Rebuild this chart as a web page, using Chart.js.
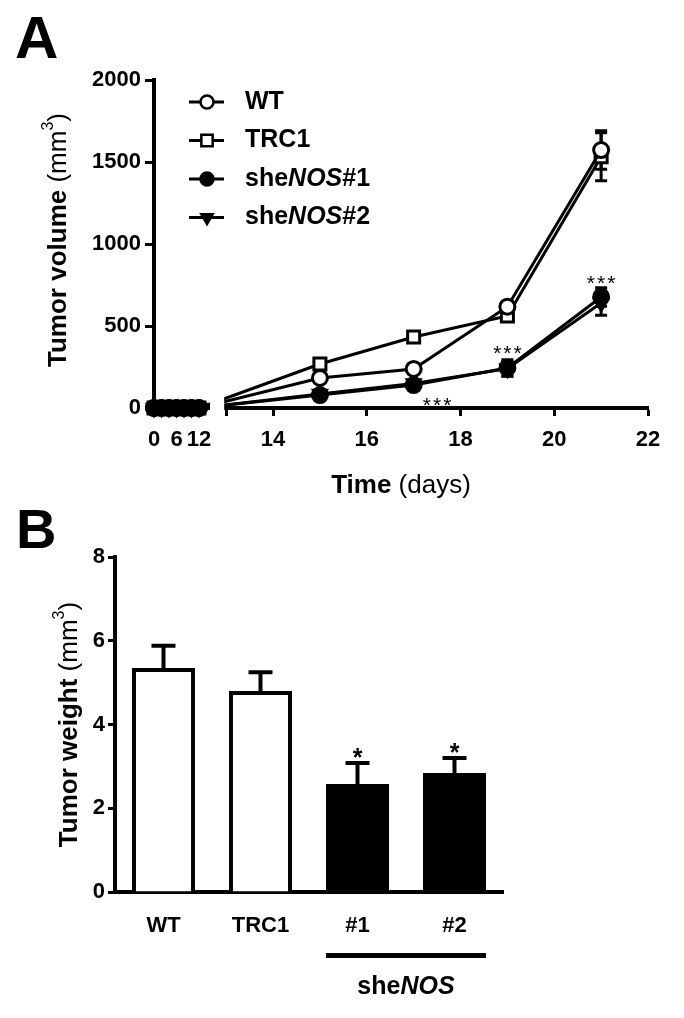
<!DOCTYPE html>
<html lang="en">
<head>
<meta charset="UTF-8">
<title>Tumor volume and tumor weight</title>
<style>
  body { margin: 0; background: #fff; }
  canvas { display: block; }
</style>
</head>
<body>
<canvas id="volumeChart" width="684" height="500"></canvas>
<canvas id="weightChart" width="684" height="518"></canvas>

<script src="https://cdn.jsdelivr.net/npm/chart.js@4.4.1/dist/chart.umd.min.js"></script>
<script>
// ---- panel A data: tumor volume (mm3) by day ----
const days = [0, 2, 4, 6, 8, 10, 12, 15, 17, 19, 21];
const wtVolume   = [0, 0, 0, 0, 0, 0, 0, 183, 238, 618, 1573];
const trcVolume  = [0, 0, 0, 0, 0, 0, 0, 268, 433, 561, 1532];
const nos1Volume = [0, 0, 0, 0, 0, 0, 0, 79, 140, 244, 677];
const nos2Volume = [0, 0, 0, 0, 0, 0, 0, 85, 150, 240, 640];
const wtErr   = [0, 0, 0, 0, 0, 0, 0, 0, 0, 0, 117];
const trcErr  = [0, 0, 0, 0, 0, 0, 0, 0, 0, 0, 146];
const nos1Err = [0, 0, 0, 0, 0, 0, 0, 0, 0, 50, 56];
const nos2Err = [0, 0, 0, 0, 0, 0, 0, 0, 0, 45, 75];
const dayTicks = [0, 6, 12, 13, 14, 16, 18, 20, 22];
const dayTickLabels = ['0', '6', '12', '', '14', '16', '18', '20', '22'];
const starDays = [17.5, 19, 21];
const starVolumes = [49, 366, 793];

// ---- panel B data: tumor weight ----
const groups = ['WT', 'TRC1', '#1', '#2'];
const weights = [5.35, 4.80, 2.58, 2.84];
const weightErr = [0.53, 0.45, 0.50, 0.36];
const weightStars = ['', '', '*', '*'];

const FONT = "'Liberation Sans', Arial, sans-serif";
const bold = s => `bold ${s}px ${FONT}`;
const regular = s => `${s}px ${FONT}`;
const boldItalic = s => `italic bold ${s}px ${FONT}`;

Chart.defaults.font.family = FONT;
Chart.defaults.color = '#000';
Chart.defaults.animation = false;

// days 0-12 are squeezed into a short segment before the axis break
const BREAK_START = 11.46;
const BREAK_SCALE = 0.08;
function axisDay(d) {
    return d <= 12 ? BREAK_START + d * BREAK_SCALE : d;
}

function drawRich(ctx, parts, x, y, align, angle) {
    ctx.save();
    ctx.translate(x, y);
    if (angle) ctx.rotate(angle);
    let total = 0;
    parts.forEach(p => {
        ctx.font = p.font;
        p.w = ctx.measureText(p.text).width;
        total += p.w;
    });
    let cx = align === 'center' ? -total / 2 : 0;
    ctx.textBaseline = 'middle';
    ctx.textAlign = 'left';
    ctx.fillStyle = '#000';
    parts.forEach(p => {
        ctx.font = p.font;
        ctx.fillText(p.text, cx, p.dy || 0);
        cx += p.w;
    });
    ctx.restore();
}

function drawMarker(ctx, style, x, y, r, filled) {
    ctx.beginPath();
    if (style === 'circle') {
        ctx.arc(x, y, r, 0, Math.PI * 2);
    } else if (style === 'rect') {
        const h = r * Math.SQRT1_2;
        ctx.rect(x - h, y - h, 2 * h, 2 * h);
    } else {
        ctx.moveTo(x - r * 0.866, y - r * 0.5);
        ctx.lineTo(x + r * 0.866, y - r * 0.5);
        ctx.lineTo(x, y + r);
        ctx.closePath();
    }
    ctx.fillStyle = filled ? '#000' : '#fff';
    ctx.fill();
    ctx.lineWidth = 2.5;
    ctx.strokeStyle = '#000';
    ctx.stroke();
}

function drawStars(ctx, text, x, cy, font, size, spacing) {
    ctx.save();
    ctx.font = font;
    ctx.letterSpacing = spacing + 'px';
    ctx.textAlign = 'center';
    ctx.textBaseline = 'alphabetic';
    ctx.fillStyle = '#000';
    ctx.fillText(text, x + spacing / 2, cy + size * 0.58);
    ctx.restore();
}

const series = [
    { name: [{ text: 'WT' }], values: wtVolume, err: wtErr, style: 'circle', filled: false, order: 3 },
    { name: [{ text: 'TRC1' }], values: trcVolume, err: trcErr, style: 'rect', filled: false, order: 4 },
    { name: [{ text: 'she' }, { text: 'NOS', italic: true }, { text: '#1' }], values: nos1Volume, err: nos1Err, style: 'circle', filled: true, order: 1 },
    { name: [{ text: 'she' }, { text: 'NOS', italic: true }, { text: '#2' }], values: nos2Volume, err: nos2Err, style: 'triangle', filled: true, order: 2 }
];

const volumePlugin = {
    id: 'volumeExtras',
    beforeDatasetsDraw(chart) {
        const { ctx, scales: { x, y } } = chart;
        ctx.save();
        ctx.strokeStyle = '#000';
        ctx.lineWidth = 3;
        series.forEach(s => {
            s.err.forEach((e, i) => {
                if (!e) return;
                const px = x.getPixelForValue(axisDay(days[i]));
                const top = y.getPixelForValue(s.values[i] + e);
                const bot = y.getPixelForValue(s.values[i] - e);
                ctx.beginPath();
                ctx.moveTo(px, top); ctx.lineTo(px, bot);
                ctx.moveTo(px - 6, top); ctx.lineTo(px + 6, top);
                ctx.moveTo(px - 6, bot); ctx.lineTo(px + 6, bot);
                ctx.stroke();
            });
        });
        ctx.restore();
    },
    afterDatasetsDraw(chart) {
        // axis break: blank out the gap between the two axis segments
        const { ctx, chartArea, scales: { x } } = chart;
        const left = x.getPixelForValue(axisDay(12)) + 11;
        const right = x.getPixelForValue(13) - 2;
        ctx.save();
        ctx.fillStyle = '#fff';
        ctx.fillRect(left, chartArea.bottom - 45, right - left, 48);
        ctx.restore();
    },
    afterDraw(chart) {
        const { ctx, chartArea, scales: { x, y } } = chart;
        // significance marks
        starDays.forEach((d, i) => {
            drawStars(ctx, '***', x.getPixelForValue(d), y.getPixelForValue(starVolumes[i]), regular(21), 21, 2);
        });
        // legend
        series.forEach((s, i) => {
            const ly = 102 + i * 38.5;
            ctx.save();
            ctx.strokeStyle = '#000';
            ctx.lineWidth = 3;
            ctx.beginPath();
            ctx.moveTo(189, ly); ctx.lineTo(224, ly);
            ctx.stroke();
            ctx.restore();
            drawMarker(ctx, s.style, 207, ly, s.style === 'rect' ? 8 : 6.5, s.filled);
            drawRich(ctx, s.name.map(p => ({ text: p.text, font: p.italic ? boldItalic(25) : bold(25) })), 245, ly, 'left', 0);
        });
        // axis titles
        drawRich(ctx, [
            { text: 'Time ', font: bold(26) },
            { text: '(days)', font: regular(26) }
        ], (chartArea.left + chartArea.right) / 2, 486, 'center', 0);
        drawRich(ctx, [
            { text: 'Tumor volume ', font: bold(26) },
            { text: '(mm', font: regular(26) },
            { text: '3', font: regular(16), dy: -10 },
            { text: ')', font: regular(26) }
        ], 59, 240, 'center', -Math.PI / 2);
        // panel letter
        ctx.save();
        ctx.font = bold(60);
        ctx.textBaseline = 'alphabetic';
        ctx.fillStyle = '#000';
        ctx.fillText('A', 15, 58);
        ctx.restore();
    }
};

const volumeCtx = document.getElementById('volumeChart').getContext('2d');
new Chart(volumeCtx, {
    type: 'line',
    data: {
        datasets: series.map(s => ({
            label: s.name.map(p => p.text).join(''),
            data: days.map((d, i) => ({ x: axisDay(d), y: s.values[i] })),
            order: s.order,
            borderColor: '#000',
            borderWidth: 3,
            tension: 0,
            clip: false,
            pointStyle: s.style,
            pointRotation: s.style === 'triangle' ? 180 : 0,
            pointRadius: s.style === 'rect' ? 8.5 : 7.5,
            pointBorderWidth: 3,
            pointBorderColor: '#000',
            pointBackgroundColor: s.filled ? '#000' : '#fff'
        }))
    },
    options: {
        responsive: false,
        events: [],
        layout: { padding: { left: 0, right: 36, top: 80, bottom: 42 } },
        plugins: { legend: { display: false }, tooltip: { enabled: false } },
        scales: {
            x: {
                type: 'linear',
                min: axisDay(0),
                max: 22,
                afterBuildTicks: s => { s.ticks = dayTicks.map(v => ({ value: axisDay(v) })); },
                afterFit: s => { s.height = 50; },
                ticks: {
                    autoSkip: false,
                    maxRotation: 0,
                    padding: 11,
                    font: { size: 22, weight: 'bold' },
                    callback: (v, i) => dayTickLabels[i]
                },
                grid: { drawOnChartArea: false, tickLength: 8, tickWidth: 3, color: '#000' },
                border: { width: 4, color: '#000' }
            },
            y: {
                min: 0,
                max: 2000,
                afterFit: s => { s.width = 154; },
                ticks: { stepSize: 500, padding: 4, font: { size: 22, weight: 'bold' }, callback: v => String(v) },
                grid: { drawOnChartArea: false, tickLength: 9, tickWidth: 3, color: '#000' },
                border: { width: 4, color: '#000' }
            }
        }
    },
    plugins: [volumePlugin]
});

// ---- panel B ----
const weightPlugin = {
    id: 'weightExtras',
    afterDatasetsDraw(chart) {
        const { ctx, scales: { y } } = chart;
        const bars = chart.getDatasetMeta(0).data;
        ctx.save();
        ctx.strokeStyle = '#000';
        ctx.lineWidth = 4;
        bars.forEach((bar, i) => {
            const base = y.getPixelForValue(weights[i]);
            const top = y.getPixelForValue(weights[i] + weightErr[i]);
            ctx.beginPath();
            ctx.moveTo(bar.x, base); ctx.lineTo(bar.x, top);
            ctx.moveTo(bar.x - 12, top); ctx.lineTo(bar.x + 12, top);
            ctx.stroke();
            if (weightStars[i]) drawStars(ctx, weightStars[i], bar.x, top - 12, bold(25), 25, 0);
        });
        ctx.restore();
    },
    afterDraw(chart) {
        const { ctx, chartArea } = chart;
        const bars = chart.getDatasetMeta(0).data;
        // bracket under the two knockdown groups
        const left = bars[2].x - bars[2].width / 2;
        const right = bars[3].x + bars[3].width / 2;
        ctx.save();
        ctx.fillStyle = '#000';
        ctx.fillRect(left, 453, right - left, 5);
        ctx.restore();
        drawRich(ctx, [
            { text: 'she', font: bold(25) },
            { text: 'NOS', font: boldItalic(25) }
        ], (left + right) / 2, 487, 'center', 0);
        drawRich(ctx, [
            { text: 'Tumor weight ', font: bold(26) },
            { text: '(mm', font: regular(26) },
            { text: '3', font: regular(16), dy: -10 },
            { text: ')', font: regular(26) }
        ], 70, (chartArea.top + chartArea.bottom) / 2, 'center', -Math.PI / 2);
        ctx.save();
        ctx.font = bold(56);
        ctx.textBaseline = 'alphabetic';
        ctx.fillStyle = '#000';
        ctx.fillText('B', 16, 48);
        ctx.restore();
    }
};

const weightCtx = document.getElementById('weightChart').getContext('2d');
new Chart(weightCtx, {
    type: 'bar',
    data: {
        labels: groups,
        datasets: [{
            data: weights,
            backgroundColor: ['#fff', '#fff', '#000', '#000'],
            borderColor: '#000',
            borderWidth: 4,
            borderSkipped: 'bottom',
            barPercentage: 0.65,
            categoryPercentage: 1
        }]
    },
    options: {
        responsive: false,
        events: [],
        layout: { padding: { left: 0, right: 181, top: 57, bottom: 76 } },
        plugins: { legend: { display: false }, tooltip: { enabled: false } },
        scales: {
            x: {
                afterFit: s => { s.height = 50; },
                ticks: { padding: 21, font: { size: 22, weight: 'bold' } },
                grid: { display: false, drawTicks: false },
                border: { width: 4, color: '#000' }
            },
            y: {
                min: 0,
                max: 8,
                afterFit: s => { s.width = 115; },
                ticks: { stepSize: 2, padding: 3, font: { size: 22, weight: 'bold' } },
                grid: { drawOnChartArea: false, tickLength: 7, tickWidth: 3, color: '#000' },
                border: { width: 4, color: '#000' }
            }
        }
    },
    plugins: [weightPlugin]
});
</script>
</body>
</html>
